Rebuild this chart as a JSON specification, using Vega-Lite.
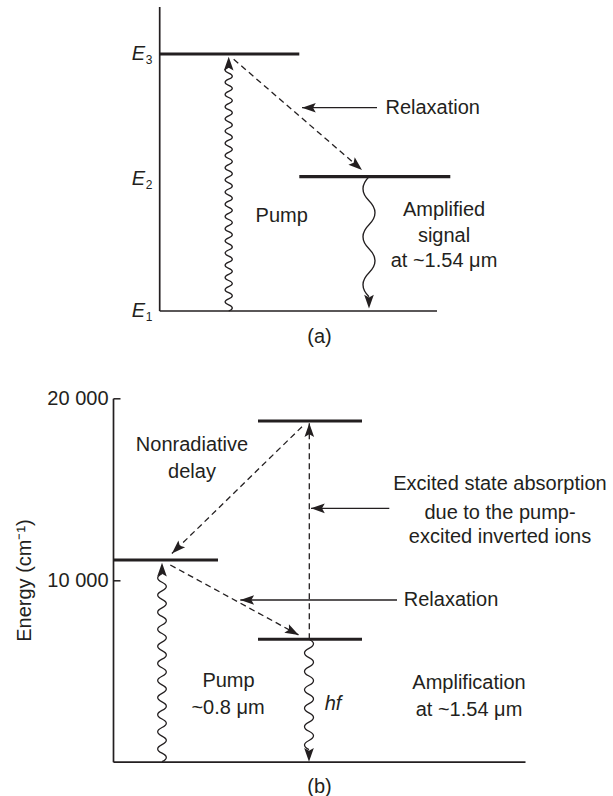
{
  "$schema": "https://vega.github.io/schema/vega-lite/v6.json",
  "background": "white",
  "padding": {"left": 14, "top": 6, "right": 0, "bottom": 0},
  "spacing": 87.3,
  "bounds": "flush",
  "config": {
    "view": {"stroke": null},
    "font": "Liberation Sans",
    "text": {"fontSize": 20, "color": "#231f20"},
    "axis": {"labelFontSize": 20, "titleFontSize": 20, "titleFontWeight": "normal", "labelColor": "#231f20", "titleColor": "#231f20", "domainColor": "#231f20", "tickColor": "#231f20"}
  },
  "vconcat": [
    {
      "width": 412,
      "height": 304,
      "encoding": {
        "x": {"field": "x", "type": "quantitative", "scale": {"domain": [0, 412], "nice": false, "zero": false},
              "axis": {"title": "(a)", "domain": false, "ticks": false, "labels": false, "grid": false, "titlePadding": 15}},
        "y": {"field": "e", "type": "quantitative", "scale": {"domain": [0, 304], "nice": false, "zero": false}, "axis": null}
      },
      "layer": [
        {
          "data": {"values": [
            {"part": "energy axis", "x": 46.7, "e": 0, "x_end": 46.7, "e_end": 304},
            {"part": "E1", "x": 46.7, "e": 0, "x_end": 324, "e_end": 0}
          ]},
          "mark": {"type": "rule", "strokeWidth": 1.7, "color": "#231f20"},
          "encoding": {"x2": {"field": "x_end"}, "y2": {"field": "e_end"}}
        },
        {
          "data": {"values": [
            {"level": "E3", "x": 46.7, "x_end": 186.3, "e": 257},
            {"level": "E2", "x": 186.3, "x_end": 337.3, "e": 134.3}
          ]},
          "mark": {"type": "rule", "strokeWidth": 3.2, "color": "#231f20"},
          "encoding": {"x2": {"field": "x_end"}}
        },
        {
          "data": {"values": [
            {"transition": "relaxation E3-E2", "x": 120.7, "e": 251.7, "x_end": 249, "e_end": 141}
          ]},
          "mark": {"type": "rule", "strokeWidth": 1.3, "strokeDash": [6, 4], "color": "#231f20"},
          "encoding": {"x2": {"field": "x_end"}, "y2": {"field": "e_end"}}
        },
        {
          "data": {"values": [
            {"pointer": "Relaxation", "x": 264, "e": 203.3, "x_end": 189, "e_end": 203.3}
          ]},
          "mark": {"type": "rule", "strokeWidth": 1.3, "color": "#231f20"},
          "encoding": {"x2": {"field": "x_end"}, "y2": {"field": "e_end"}}
        },
        {
          "data": {"values": [
            {"x": 115.7, "e": 254.3, "heading": 0},
            {"x": 249, "e": 141, "heading": 130.8},
            {"x": 189, "e": 203.3, "heading": 270},
            {"x": 256, "e": 2.5, "heading": 180}
          ]},
          "mark": {"type": "point", "shape": "M0,0L0.7,2L0,1.6L-0.7,2Z", "filled": true, "opacity": 1, "size": 190, "color": "#231f20", "strokeWidth": 0},
          "encoding": {"angle": {"field": "heading", "type": "quantitative", "scale": null}}
        },
        {
          "data": {"values": [{"transition": "pump", "x": 115.7, "e": 0}]},
          "mark": {"type": "point", "filled": false, "opacity": 1, "strokeWidth": 1.3, "color": "#231f20", "size": 59536,
                   "shape": "M0,0q0.059,-0.025,0,-0.05q-0.059,-0.025,0,-0.05q0.059,-0.025,0,-0.05q-0.059,-0.025,0,-0.05q0.059,-0.025,0,-0.05q-0.059,-0.025,0,-0.05q0.059,-0.025,0,-0.05q-0.059,-0.025,0,-0.05q0.059,-0.025,0,-0.05q-0.059,-0.025,0,-0.05q0.059,-0.025,0,-0.05q-0.059,-0.025,0,-0.05q0.059,-0.025,0,-0.05q-0.059,-0.025,0,-0.05q0.059,-0.025,0,-0.05q-0.059,-0.025,0,-0.05q0.059,-0.025,0,-0.05q-0.059,-0.025,0,-0.05q0.059,-0.025,0,-0.05q-0.059,-0.025,0,-0.05q0.059,-0.025,0,-0.05q-0.059,-0.025,0,-0.05q0.059,-0.025,0,-0.05q-0.059,-0.025,0,-0.05q0.059,-0.025,0,-0.05q-0.059,-0.025,0,-0.05q0.059,-0.025,0,-0.05q-0.059,-0.025,0,-0.05q0.059,-0.025,0,-0.05q-0.059,-0.025,0,-0.05q0.059,-0.025,0,-0.05q-0.059,-0.025,0,-0.05q0.059,-0.025,0,-0.05q-0.059,-0.025,0,-0.05q0.059,-0.025,0,-0.05q-0.059,-0.025,0,-0.05q0.059,-0.025,0,-0.05q-0.059,-0.025,0,-0.05q0.059,-0.025,0,-0.05q-0.059,-0.025,0,-0.05"}
        },
        {
          "data": {"values": [{"transition": "amplified signal", "x": 256, "e": 134.3}]},
          "mark": {"type": "point", "filled": false, "opacity": 1, "strokeWidth": 1.3, "color": "#231f20", "size": 14400,
                   "shape": "M0,0q-0.2,0.2,0,0.4q0.2,0.2,0,0.4q-0.2,0.2,0,0.4q0.2,0.2,0,0.4q-0.2,0.2,0,0.4"}
        },
        {
          "data": {"values": [
            {"label": "E", "x": 25.5, "e": 257},
            {"label": "E", "x": 25.5, "e": 132},
            {"label": "E", "x": 25.5, "e": 0.3}
          ]},
          "mark": {"type": "text", "fontStyle": "italic", "align": "center", "baseline": "middle"},
          "encoding": {"text": {"field": "label"}}
        },
        {
          "data": {"values": [
            {"label": "3", "x": 36, "e": 257},
            {"label": "2", "x": 36, "e": 132},
            {"label": "1", "x": 36, "e": 0.3}
          ]},
          "mark": {"type": "text", "fontSize": 12, "align": "center", "baseline": "middle", "dy": 6},
          "encoding": {"text": {"field": "label"}}
        },
        {
          "data": {"values": [
            {"label": "Pump", "x": 168.7, "e": 95},
            {"label": "Relaxation", "x": 319.7, "e": 203.3},
            {"label": "Amplified", "x": 331, "e": 101},
            {"label": "signal", "x": 331, "e": 75.3},
            {"label": "at ~1.54 μm", "x": 331, "e": 50}
          ]},
          "mark": {"type": "text", "align": "center", "baseline": "middle"},
          "encoding": {"text": {"field": "label"}}
        }
      ]
    },
    {
      "width": 412,
      "height": 363.4,
      "encoding": {
        "x": {"field": "x", "type": "quantitative", "scale": {"domain": [0, 412], "nice": false, "zero": false},
              "axis": {"title": "(b)", "domain": true, "domainWidth": 1.7, "ticks": false, "labels": false, "grid": false, "titlePadding": 15}},
        "y": {"field": "e", "type": "quantitative", "scale": {"domain": [0, 20000], "nice": false},
              "axis": {"title": "Energy (cm⁻¹)", "values": [10000, 20000], "labelExpr": "replace(format(datum.value, ','), ',', ' ')",
                       "tickSize": -7, "tickWidth": 1.5, "labelPadding": 12, "grid": false, "domainWidth": 1.7, "titlePadding": 12}}
      },
      "layer": [
        {
          "data": {"values": [
            {"level": "pump level", "x": 0, "x_end": 105, "e": 11100},
            {"level": "ESA level", "x": 145, "x_end": 249, "e": 18750},
            {"level": "metastable level", "x": 145, "x_end": 249, "e": 6740}
          ]},
          "mark": {"type": "rule", "strokeWidth": 3.2, "color": "#231f20"},
          "encoding": {"x2": {"field": "x_end"}}
        },
        {
          "data": {"values": [
            {"transition": "nonradiative delay", "x": 189, "e": 18437, "x_end": 58.9, "e_end": 11458},
            {"transition": "relaxation", "x": 57.3, "e": 10826, "x_end": 185.7, "e_end": 6973},
            {"transition": "excited state absorption", "x": 196.3, "e": 6740, "x_end": 196.3, "e_end": 18624}
          ]},
          "mark": {"type": "rule", "strokeWidth": 1.3, "strokeDash": [6, 4], "color": "#231f20"},
          "encoding": {"x2": {"field": "x_end"}, "y2": {"field": "e_end"}}
        },
        {
          "data": {"values": [
            {"pointer": "Excited state absorption", "x": 276.3, "e": 13946, "x_end": 198, "e_end": 13946},
            {"pointer": "Relaxation", "x": 284, "e": 8900, "x_end": 127.3, "e_end": 8900}
          ]},
          "mark": {"type": "rule", "strokeWidth": 1.3, "color": "#231f20"},
          "encoding": {"x2": {"field": "x_end"}, "y2": {"field": "e_end"}}
        },
        {
          "data": {"values": [
            {"x": 49, "e": 10950, "heading": 0},
            {"x": 58.9, "e": 11458, "heading": 225.7},
            {"x": 185.7, "e": 6973, "heading": 118.6},
            {"x": 196.3, "e": 18624, "heading": 0},
            {"x": 198, "e": 13946, "heading": 270},
            {"x": 127.3, "e": 8900, "heading": 270},
            {"x": 196, "e": 0, "heading": 180}
          ]},
          "mark": {"type": "point", "shape": "M0,0L0.7,2L0,1.6L-0.7,2Z", "filled": true, "opacity": 1, "size": 190, "color": "#231f20", "strokeWidth": 0},
          "encoding": {"angle": {"field": "heading", "type": "quantitative", "scale": null}}
        },
        {
          "data": {"values": [{"transition": "pump ~0.8 um", "x": 49, "e": 0}]},
          "mark": {"type": "point", "filled": false, "opacity": 1, "strokeWidth": 1.3, "color": "#231f20", "size": 35344,
                   "shape": "M0,0q0.0915,-0.04545,0,-0.0909q-0.0915,-0.04545,0,-0.0909q0.0915,-0.04545,0,-0.0909q-0.0915,-0.04545,0,-0.0909q0.0915,-0.04545,0,-0.0909q-0.0915,-0.04545,0,-0.0909q0.0915,-0.04545,0,-0.0909q-0.0915,-0.04545,0,-0.0909q0.0915,-0.04545,0,-0.0909q-0.0915,-0.04545,0,-0.0909q0.0915,-0.04545,0,-0.0909q-0.0915,-0.04545,0,-0.0909q0.0915,-0.04545,0,-0.0909q-0.0915,-0.04545,0,-0.0909q0.0915,-0.04545,0,-0.0909q-0.0915,-0.04545,0,-0.0909q0.0915,-0.04545,0,-0.0909q-0.0915,-0.04545,0,-0.0909q0.0915,-0.04545,0,-0.0909q-0.0915,-0.04545,0,-0.0909q0.0915,-0.04545,0,-0.0909q-0.0915,-0.04545,0,-0.0909"}
        },
        {
          "data": {"values": [{"transition": "hf emission", "x": 196, "e": 6740}]},
          "mark": {"type": "point", "filled": false, "opacity": 1, "strokeWidth": 1.3, "color": "#231f20", "size": 12188,
                   "shape": "M0,0q0.163,0.0833,0,0.1667q-0.163,0.0833,0,0.1667q0.163,0.0833,0,0.1667q-0.163,0.0833,0,0.1667q0.163,0.0833,0,0.1667q-0.163,0.0833,0,0.1667q0.163,0.0833,0,0.1667q-0.163,0.0833,0,0.1667q0.163,0.0833,0,0.1667q-0.163,0.0833,0,0.1667q0.163,0.0833,0,0.1667q-0.163,0.0833,0,0.1667"}
        },
        {
          "data": {"values": [
            {"label": "Nonradiative", "x": 79, "e": 17430},
            {"label": "delay", "x": 79, "e": 15960},
            {"label": "Excited state absorption", "x": 387, "e": 15283},
            {"label": "due to the pump-", "x": 387, "e": 13688},
            {"label": "excited inverted ions", "x": 387, "e": 12383},
            {"label": "Relaxation", "x": 338, "e": 8900},
            {"label": "Pump", "x": 115.5, "e": 4458},
            {"label": "~0.8 μm", "x": 115, "e": 2939},
            {"label": "Amplification", "x": 356, "e": 4315},
            {"label": "at ~1.54 μm", "x": 356, "e": 2846}
          ]},
          "mark": {"type": "text", "align": "center", "baseline": "middle"},
          "encoding": {"text": {"field": "label"}}
        },
        {
          "data": {"values": [{"label": "hf", "x": 220, "e": 3176}]},
          "mark": {"type": "text", "fontStyle": "italic", "align": "center", "baseline": "middle"},
          "encoding": {"text": {"field": "label"}}
        }
      ]
    }
  ]
}
